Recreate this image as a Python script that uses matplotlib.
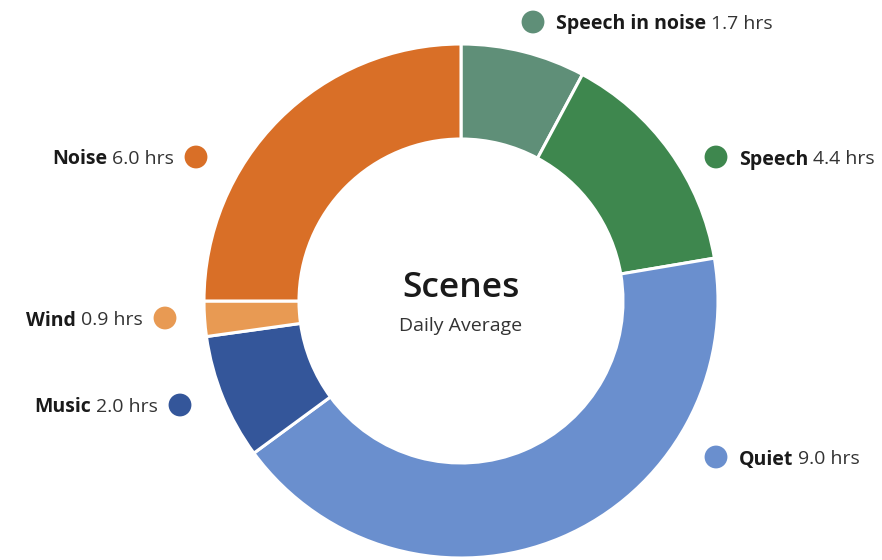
import matplotlib
matplotlib.use('Agg')
import matplotlib.pyplot as plt

# Scene data (hours per day, as labelled)
scenes = ['Speech in noise', 'Speech', 'Quiet', 'Music', 'Wind', 'Noise']
hours = [1.7, 4.4, 9.0, 2.0, 0.9, 6.0]
# wedge sizes as drawn in the reference (they don't follow the labels exactly)
arc_hours = [1.88, 3.48, 10.22, 1.89, 0.53, 6.0]
colors = ['#5f8f78', '#3e874e', '#6a8fce', '#34569a', '#e89a53', '#d96f27']

# label layout in pixel space (dot x, dot y, side)
label_pos = [(533, 22, 'right'), (716, 157, 'right'), (716, 457, 'right'),
             (180, 405, 'left'), (165, 318, 'left'), (196, 157, 'left')]

W, H = 882, 560
plt.rcParams['font.family'] = ['Open Sans', 'DejaVu Sans']

fig = plt.figure(figsize=(W / 100, H / 100), dpi=100)
fig.patch.set_facecolor('white')
ax = fig.add_axes([0, 0, 1, 1])

cx, cy = 461, H - 301
ax.pie(arc_hours, colors=colors, startangle=90, counterclock=False,
       center=(cx, cy), radius=257,
       wedgeprops=dict(width=95, edgecolor='white', linewidth=2.2))
ax.set_xlim(0, W)
ax.set_ylim(0, H)
ax.set_aspect('equal')
ax.axis('off')

# center text
ax.text(cx, H - 288, 'Scenes', ha='center', va='center', fontsize=25.5,
        fontweight='semibold', color='#1a1a1a')
ax.text(cx, H - 326, 'Daily Average', ha='center', va='center', fontsize=14,
        color='#333333')

renderer = fig.canvas.get_renderer()
fs = 14
for name, val, col, (dx, dy, side) in zip(scenes, hours, colors, label_pos):
    y = H - dy
    ax.scatter([dx], [y], s=270, color=col, edgecolors='none', zorder=5)
    if side == 'right':
        t1 = ax.text(dx + 23, y, name, ha='left', va='center_baseline', fontsize=fs,
                     fontweight='bold', color='#1a1a1a')
        bb = t1.get_window_extent(renderer)
        ax.text(bb.x1 + 5, y, f'{val:.1f} hrs', ha='left', va='center_baseline',
                fontsize=fs, color='#333333')
    else:
        t2 = ax.text(dx - 22, y, f'{val:.1f} hrs', ha='right', va='center_baseline',
                     fontsize=fs, color='#333333')
        bb = t2.get_window_extent(renderer)
        ax.text(bb.x0 - 5, y, name, ha='right', va='center_baseline', fontsize=fs,
                fontweight='bold', color='#1a1a1a')

fig.savefig('out.png', dpi=100, facecolor='white')
plt.close(fig)
